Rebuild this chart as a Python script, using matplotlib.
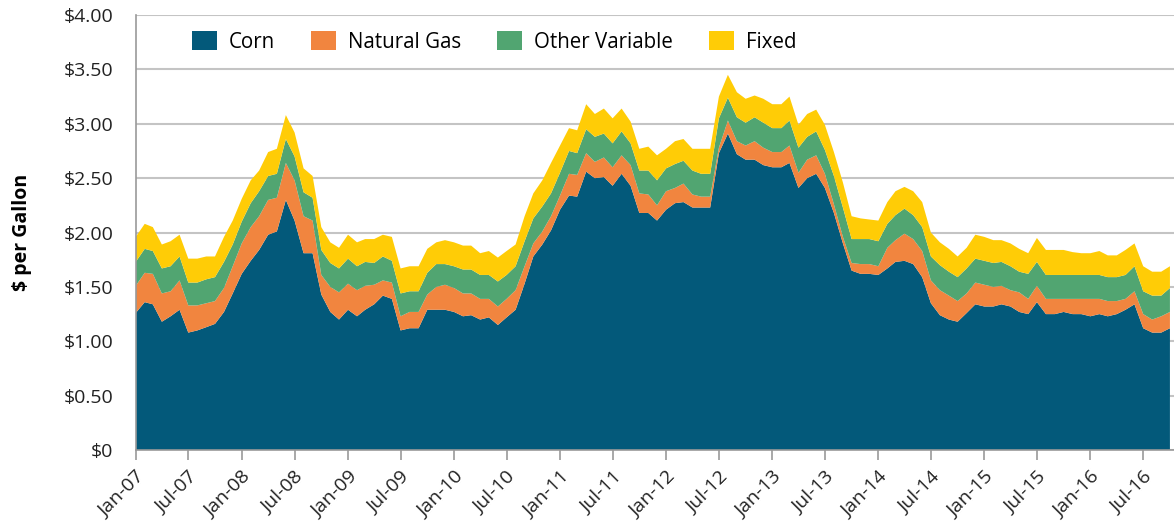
import numpy as np
import matplotlib
matplotlib.use('Agg')
import matplotlib.pyplot as plt
import matplotlib.dates as mdates
from matplotlib.patches import Patch
import pandas as pd

plt.rcParams['font.family'] = ['Open Sans', 'DejaVu Sans']

# monthly cost components, $ per gallon, Jan-07 .. Oct-16
corn = [1.26, 1.36, 1.34, 1.18, 1.23, 1.29, 1.08, 1.10, 1.13, 1.16, 1.27, 1.44,
        1.62, 1.74, 1.84, 1.98, 2.01, 2.30, 2.11, 1.81, 1.81, 1.43, 1.27, 1.20,
        1.29, 1.23, 1.29, 1.34, 1.42, 1.39, 1.10, 1.12, 1.12, 1.29, 1.29, 1.29,
        1.27, 1.23, 1.24, 1.20, 1.22, 1.15, 1.22, 1.29, 1.53, 1.78, 1.89, 2.02,
        2.21, 2.34, 2.33, 2.56, 2.50, 2.51, 2.43, 2.54, 2.43, 2.18, 2.18, 2.11,
        2.21, 2.27, 2.28, 2.23, 2.23, 2.23, 2.73, 2.91, 2.72, 2.67, 2.67, 2.62,
        2.60, 2.60, 2.64, 2.41, 2.50, 2.54, 2.41, 2.18, 1.90, 1.65, 1.62, 1.62,
        1.61, 1.67, 1.73, 1.74, 1.71, 1.59, 1.35, 1.24, 1.20, 1.18, 1.26, 1.34,
        1.32, 1.32, 1.34, 1.32, 1.27, 1.25, 1.36, 1.25, 1.25, 1.27, 1.25, 1.25,
        1.23, 1.25, 1.23, 1.25, 1.29, 1.34, 1.12, 1.08, 1.08, 1.12]
natural_gas = [0.25, 0.27, 0.28, 0.26, 0.23, 0.27, 0.25, 0.23, 0.22, 0.21, 0.22, 0.25,
               0.28, 0.31, 0.31, 0.32, 0.31, 0.34, 0.37, 0.34, 0.30, 0.18, 0.23, 0.25,
               0.24, 0.24, 0.22, 0.18, 0.14, 0.15, 0.13, 0.15, 0.15, 0.14, 0.21, 0.23,
               0.22, 0.21, 0.20, 0.19, 0.17, 0.17, 0.17, 0.18, 0.16, 0.12, 0.12, 0.13,
               0.13, 0.20, 0.20, 0.17, 0.15, 0.18, 0.17, 0.17, 0.19, 0.18, 0.17, 0.14,
               0.17, 0.14, 0.17, 0.12, 0.10, 0.10, 0.05, 0.12, 0.12, 0.13, 0.17, 0.16,
               0.14, 0.14, 0.16, 0.14, 0.17, 0.17, 0.13, 0.08, 0.06, 0.07, 0.09, 0.09,
               0.08, 0.19, 0.20, 0.25, 0.23, 0.24, 0.21, 0.23, 0.22, 0.19, 0.18, 0.20,
               0.20, 0.18, 0.17, 0.15, 0.18, 0.14, 0.15, 0.14, 0.14, 0.12, 0.14, 0.14,
               0.16, 0.14, 0.14, 0.12, 0.10, 0.12, 0.13, 0.12, 0.15, 0.15]
other_variable = [0.22, 0.22, 0.21, 0.23, 0.23, 0.22, 0.21, 0.21, 0.22, 0.22, 0.24, 0.20,
                  0.20, 0.22, 0.23, 0.22, 0.22, 0.22, 0.22, 0.22, 0.21, 0.23, 0.22, 0.22,
                  0.23, 0.22, 0.22, 0.20, 0.22, 0.20, 0.21, 0.19, 0.19, 0.20, 0.21, 0.19,
                  0.20, 0.22, 0.22, 0.22, 0.22, 0.23, 0.22, 0.22, 0.23, 0.23, 0.23, 0.21,
                  0.21, 0.21, 0.20, 0.22, 0.23, 0.22, 0.22, 0.22, 0.20, 0.21, 0.22, 0.23,
                  0.21, 0.22, 0.21, 0.22, 0.21, 0.21, 0.27, 0.21, 0.22, 0.21, 0.22, 0.23,
                  0.22, 0.22, 0.23, 0.23, 0.21, 0.22, 0.22, 0.26, 0.27, 0.22, 0.23, 0.23,
                  0.23, 0.22, 0.23, 0.23, 0.22, 0.22, 0.22, 0.23, 0.22, 0.22, 0.23, 0.22,
                  0.22, 0.22, 0.22, 0.22, 0.19, 0.23, 0.22, 0.22, 0.22, 0.22, 0.22, 0.22,
                  0.22, 0.22, 0.22, 0.22, 0.22, 0.23, 0.21, 0.22, 0.19, 0.22]
fixed = [0.23, 0.23, 0.22, 0.22, 0.23, 0.20, 0.22, 0.22, 0.21, 0.19, 0.23, 0.22,
         0.21, 0.21, 0.19, 0.22, 0.23, 0.22, 0.22, 0.22, 0.20, 0.21, 0.19, 0.19,
         0.22, 0.22, 0.21, 0.22, 0.20, 0.22, 0.23, 0.23, 0.23, 0.22, 0.20, 0.22,
         0.22, 0.22, 0.22, 0.20, 0.22, 0.22, 0.22, 0.20, 0.23, 0.23, 0.24, 0.28,
         0.25, 0.21, 0.21, 0.23, 0.21, 0.23, 0.23, 0.21, 0.20, 0.20, 0.22, 0.23,
         0.18, 0.21, 0.20, 0.20, 0.23, 0.23, 0.20, 0.21, 0.23, 0.22, 0.20, 0.22,
         0.22, 0.22, 0.22, 0.21, 0.21, 0.20, 0.23, 0.22, 0.23, 0.21, 0.19, 0.18,
         0.19, 0.20, 0.22, 0.20, 0.22, 0.23, 0.22, 0.21, 0.21, 0.19, 0.19, 0.22,
         0.22, 0.21, 0.20, 0.21, 0.21, 0.19, 0.22, 0.23, 0.23, 0.23, 0.21, 0.20,
         0.20, 0.22, 0.20, 0.20, 0.23, 0.21, 0.23, 0.22, 0.22, 0.20]

labels = ['Corn', 'Natural Gas', 'Other Variable', 'Fixed']
colors = ['#03597A', '#F1853F', '#51A571', '#FFCC06']
y_ticks = [0, 0.5, 1.0, 1.5, 2.0, 2.5, 3.0, 3.5, 4.0]
y_labels = ['\\$0', '\\$0.50', '\\$1.00', '\\$1.50', '\\$2.00', '\\$2.50', '\\$3.00', '\\$3.50', '\\$4.00']

dates = pd.date_range('2007-01-01', periods=len(corn), freq='MS')

fig = plt.figure(figsize=(11.74, 5.27), dpi=100)
ax = fig.add_axes([0.1156, 0.146, 0.8844, 0.8255])

ax.stackplot(dates, corn, natural_gas, other_variable, fixed, colors=colors,
             labels=labels, linewidth=0, zorder=2)

ax.set_ylim(0, 4.0)
ax.set_yticks(y_ticks)
ax.set_yticklabels(y_labels)
ax.yaxis.grid(True, color='#c4c4c4', linewidth=1.5, zorder=0)
ax.set_axisbelow(True)

ax.set_xlim(dates[0], dates[-1] + pd.Timedelta(days=14))
ax.set_xticks(dates[::6])
ax.xaxis.set_major_formatter(mdates.DateFormatter('%b-%y'))
plt.setp(ax.get_xticklabels(), rotation=45, ha='right', rotation_mode='anchor')

ax.tick_params(axis='y', length=0, labelsize=14, pad=16, colors='#222222')
ax.tick_params(axis='x', length=7, width=1.2, color='#999999', labelsize=14,
               pad=6, labelcolor='#222222')

for s in ['top', 'right']:
    ax.spines[s].set_visible(False)
ax.spines['left'].set_color('#999999')
ax.spines['bottom'].set_color('#999999')
ax.spines['left'].set_linewidth(1.2)
ax.spines['bottom'].set_linewidth(1.2)

ax.set_ylabel('\\$ per Gallon', fontsize=14, fontweight='bold', labelpad=12)
ax.yaxis.set_label_coords(-0.1, 0.5)

handles = [Patch(facecolor=c, edgecolor='none') for c in colors]
ax.legend(handles, labels, loc='center left', bbox_to_anchor=(0.036, 0.938),
          ncol=4, frameon=False, fontsize=14.8, handlelength=1.25, handleheight=1.05,
          handletextpad=0.55, columnspacing=1.75)

plt.savefig('out.png', dpi=100)
